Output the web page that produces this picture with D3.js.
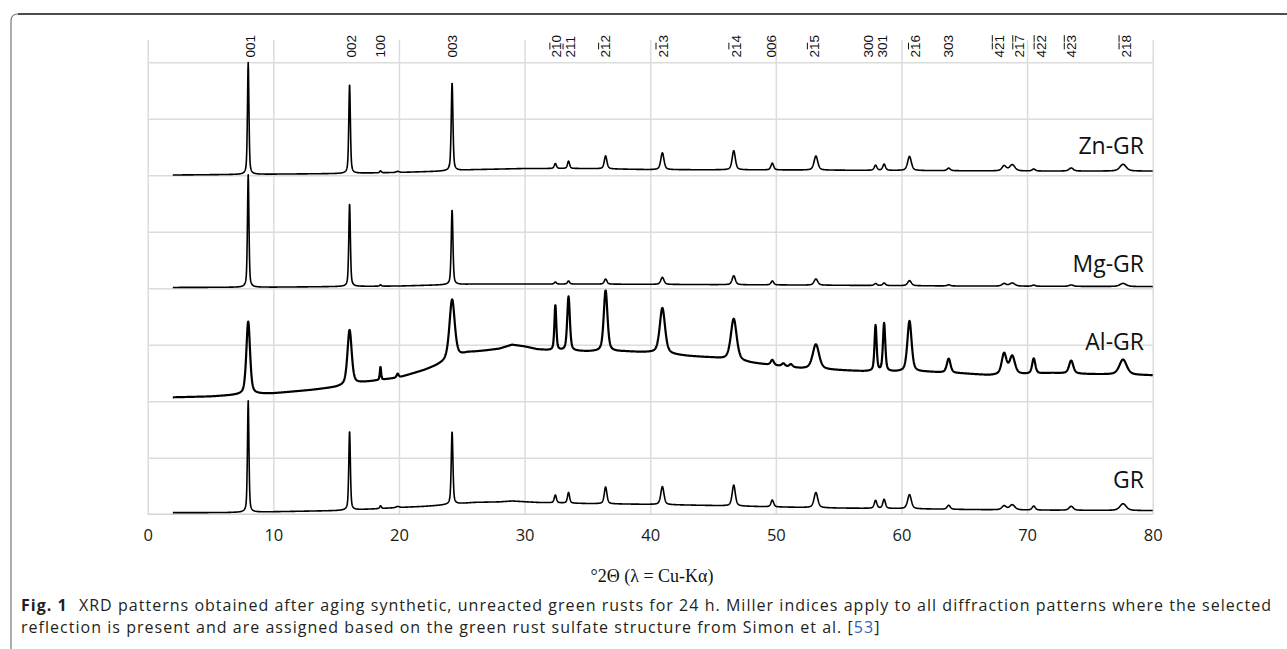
<!DOCTYPE html>
<html>
<head>
<meta charset="utf-8">
<script src="https://cdn.jsdelivr.net/npm/d3@7"></script>
<style>
	body{margin:0;background:#fff;}
	svg{display:block;}
</style>
</head>
<body>
<svg id="chart" width="1287" height="649"></svg>
<script>
// Axis ticks / gridlines
const xTicks = [0, 10, 20, 30, 40, 50, 60, 70, 80];
const yGrid = [1, 2, 3, 4, 5, 6, 7, 8];

// Patterns, stacked bottom to top, with their vertical offset
const seriesNames = ["GR", "Al-GR", "Mg-GR", "Zn-GR"];
const seriesOffsets = [0, 2, 4, 6];
const seriesLabelY = [488, 350, 272, 154];

// Reflection positions (°2θ)
const peakPos = [8.0, 16.07, 18.53, 19.9, 24.23, 32.45, 33.5, 36.45, 40.97, 46.65, 49.72, 50.6, 51.2,
	53.19, 57.94, 58.62, 60.64, 63.76, 68.17, 68.82, 70.53, 73.51, 77.64];

// Peak heights above background (grid units) for each pattern
const grHeights = [1.97, 1.40, 0.05, 0.02, 1.29, 0.14, 0.19, 0.30, 0.32, 0.37, 0.12, 0, 0,
	0.27, 0.14, 0.16, 0.25, 0.07, 0.07, 0.09, 0.07, 0.07, 0.12];
const alHeights = [1.29, 0.97, 0.23, 0.07, 1.06, 0.80, 0.96, 1.08, 0.81, 0.74, 0.09, 0.05, 0.05,
	0.44, 0.81, 0.85, 0.90, 0.25, 0.37, 0.32, 0.27, 0.23, 0.27];
const mgHeights = [1.99, 1.47, 0.025, 0, 1.33, 0.035, 0.055, 0.09, 0.125, 0.16, 0.07, 0, 0,
	0.11, 0.035, 0.045, 0.09, 0.02, 0.045, 0.055, 0.02, 0.025, 0.055];
const znHeights = [1.98, 1.58, 0.035, 0.02, 1.56, 0.09, 0.13, 0.23, 0.30, 0.34, 0.12, 0, 0,
	0.25, 0.09, 0.11, 0.25, 0.045, 0.09, 0.11, 0.035, 0.055, 0.12];

// Peak widths (FWHM, °2θ): crystalline patterns and the broader Al-GR pattern
const sharpWidths = [0.14, 0.15, 0.15, 0.3, 0.16, 0.2, 0.2, 0.25, 0.3, 0.3, 0.25, 0.3, 0.3,
	0.35, 0.25, 0.25, 0.35, 0.3, 0.4, 0.5, 0.3, 0.4, 0.6];
const alWidths = [0.35, 0.4, 0.12, 0.2, 0.5, 0.18, 0.25, 0.35, 0.5, 0.55, 0.3, 0.3, 0.3,
	0.6, 0.2, 0.22, 0.4, 0.35, 0.45, 0.5, 0.3, 0.4, 0.7];

// Background knots (°2θ, grid units above offset)
const grBgX = [2, 6, 10, 15, 18, 20, 22, 23, 26, 28, 29, 31, 35, 40, 45, 50, 55, 60, 65, 70, 80];
const grBgY = [0.03, 0.03, 0.045, 0.065, 0.095, 0.12, 0.14, 0.155, 0.21, 0.22, 0.235, 0.21, 0.19,
	0.175, 0.155, 0.13, 0.11, 0.10, 0.085, 0.075, 0.065];
const alBgX = [2, 5, 7, 10, 13, 15, 17, 19, 20, 22, 23, 25.5, 27, 28, 29, 30, 31, 32, 35, 38, 40,
	43, 45, 48, 50, 52, 55, 57, 59.3, 62, 65, 67, 70, 72, 75, 80];
const alBgY = [0.07, 0.085, 0.11, 0.14, 0.2, 0.25, 0.33, 0.39, 0.42, 0.55, 0.63, 0.86, 0.9, 0.93, 1.0,
	0.97, 0.92, 0.9, 0.88, 0.88, 0.86, 0.8, 0.77, 0.68, 0.63, 0.58, 0.55, 0.53, 0.52, 0.52, 0.49,
	0.46, 0.48, 0.5, 0.48, 0.46];
const mgBgX = [2, 10, 20, 26, 35, 50, 65, 80];
const mgBgY = [0.015, 0.02, 0.04, 0.075, 0.075, 0.06, 0.04, 0.03];
const znBgX = [2, 10, 15, 20, 23, 26, 30, 35, 40, 50, 60, 70, 80];
const znBgY = [0.005, 0.02, 0.03, 0.05, 0.07, 0.10, 0.12, 0.12, 0.10, 0.095, 0.085, 0.075, 0.075];

// Miller index labels: position and digits ("-" marks an overlined digit)
const millerPos = [8.15, 16.18, 18.48, 24.2, 32.55, 33.6, 36.43, 41.0, 46.8, 49.64, 53.05, 57.37,
	58.45, 61.1, 63.7, 67.77, 69.4, 71.1, 73.5, 77.86];
const millerText = ["0 0 1", "0 0 2", "1 0 0", "0 0 3", "2 -1 0", "2 -1 1", "2 -1 2", "2 -1 3",
	"2 -1 4", "0 0 6", "2 -1 5", "3 0 0", "3 0 1", "2 -1 6", "3 0 3", "4 -2 -1", "2 -1 -7",
	"4 -2 -2", "4 -2 -3", "2 -1 -8"];

const heights = [grHeights, alHeights, mgHeights, znHeights];
const widths = [sharpWidths, alWidths, sharpWidths, sharpWidths];
const bgX = [grBgX, alBgX, mgBgX, znBgX];
const bgY = [grBgY, alBgY, mgBgY, znBgY];
const strokeW = [1.6, 2.2, 1.6, 1.6];

const svg = d3.select("#chart");

// Figure frame
svg.append("path")
	.attr("d", "M11,649 L11,21 Q11,14 18,14")
	.attr("fill", "none").attr("stroke", "#777").attr("stroke-width", 1.2);
svg.append("path")
	.attr("d", "M18,14 L1287,14")
	.attr("fill", "none").attr("stroke", "#111").attr("stroke-width", 1.4);

// Scales
const x = d3.scaleLinear().domain([0, 80]).range([147.7, 1152.7]);
const y = d3.scaleLinear().domain([0, 8.4]).range([514.3, 39.7]);

// Gridlines
svg.append("g")
	.attr("class", "grid x")
	.attr("transform", "translate(0," + y(0) + ")")
	.call(d3.axisBottom(x).tickValues(xTicks).tickSize(-(y(0) - y(8.4))).tickFormat(""))
	.call(g => g.select(".domain").remove());
svg.append("g")
	.attr("class", "grid y")
	.attr("transform", "translate(" + x(0) + ",0)")
	.call(d3.axisLeft(y).tickValues(yGrid).tickSize(-(x(80) - x(0))).tickFormat(""))
	.call(g => g.select(".domain").remove());
svg.selectAll(".grid line").attr("stroke", "#dcdcdc").attr("stroke-width", 1.5);

// Bottom axis line
svg.append("line")
	.attr("x1", x(0)).attr("x2", x(80))
	.attr("y1", y(0)).attr("y2", y(0))
	.attr("stroke", "#d4d4d4").attr("stroke-width", 1.6);

// Tick labels
const xAxis = svg.append("g")
	.attr("transform", "translate(0," + y(0) + ")")
	.call(d3.axisBottom(x).tickValues(xTicks).tickSize(0));
xAxis.select(".domain").remove();
xAxis.selectAll("text")
	.attr("y", 27).attr("dy", 0)
	.style("font-family", "'Open Sans', sans-serif")
	.style("font-size", "16.5px")
	.attr("fill", "#1a1a1a");

// Pseudo-Voigt peak profile, normalised to height 1 at the centre
function profile(t, c, w){
	const d = (t - c) / (w / 2);
	const lor = 1 / (1 + d * d);
	const gau = Math.exp(-Math.LN2 * d * d);
	return 0.5 * lor + 0.5 * gau;
}

const grid2t = d3.range(2, 80.0001, 0.02);
const line = d3.line().x(d => x(d[0])).y(d => y(d[1]));

seriesNames.forEach((name, s) => {
	const bg = d3.scaleLinear().domain(bgX[s]).range(bgY[s]).clamp(true);
	const pts = grid2t.map(t => {
		let v = seriesOffsets[s] + bg(t);
		peakPos.forEach((p, i) => {
			if (heights[s][i] > 0) v += heights[s][i] * profile(t, p, widths[s][i]);
		});
		return [t, v];
	});
	svg.append("path")
		.datum(pts)
		.attr("class", "pattern")
		.attr("d", line)
		.attr("fill", "none")
		.attr("stroke", "#000")
		.attr("stroke-width", strokeW[s])
		.attr("stroke-linejoin", "round");

	svg.append("text")
		.attr("x", 1144)
		.attr("y", seriesLabelY[s])
		.attr("text-anchor", "end")
		.style("font-family", "'Open Sans', sans-serif")
		.style("font-size", "23px")
		.attr("fill", "#111")
		.text(name);
});

// Miller indices, rotated; one tspan per digit, overlines drawn above the barred digits
const mFont = 13.5;
millerText.forEach((lab, i) => {
	const g = svg.append("g")
		.attr("transform", "translate(" + x(millerPos[i]) + ",57.5) rotate(-90)");
	const parts = lab.split(" ");
	const t = g.append("text")
		.attr("y", 0.36 * mFont)
		.attr("text-anchor", "start")
		.style("font-family", "'Liberation Sans', Arial, sans-serif")
		.style("font-size", mFont + "px")
		.attr("fill", "#111");
	parts.forEach(p => t.append("tspan").text(p.replace("-", "")));
	parts.forEach((p, k) => {
		if (!p.startsWith("-")) return;
		const ext = t.node().getExtentOfChar(k);
		const yy = 0.36 * mFont - 0.86 * mFont;
		g.append("line")
			.attr("x1", ext.x + 0.6).attr("x2", ext.x + ext.width - 0.2)
			.attr("y1", yy).attr("y2", yy)
			.attr("stroke", "#111").attr("stroke-width", 1);
	});
});

// Axis title
svg.append("text")
	.attr("x", 652).attr("y", 582)
	.attr("text-anchor", "middle")
	.style("font-family", "'Liberation Serif', 'Times New Roman', serif")
	.style("font-size", "18px")
	.attr("fill", "#111")
	.text("°2Θ (λ = Cu-Kα)");

// Caption
const capFont = "'Open Sans', sans-serif";
const cap1 = svg.append("text")
	.attr("x", 21).attr("y", 611)
	.style("font-family", capFont).style("font-size", "16px")
	.attr("fill", "#231f20");
cap1.append("tspan").style("font-weight", "bold").text("Fig. 1");
cap1.append("tspan").attr("dx", 6)
	.text(" XRD patterns obtained after aging synthetic, unreacted green rusts for 24 h. Miller indices apply to all diffraction patterns where the selected");

const cap2 = svg.append("text")
	.attr("x", 21).attr("y", 633)
	.style("font-family", capFont).style("font-size", "16px")
	.attr("fill", "#231f20");
cap2.append("tspan").text("reflection is present and are assigned based on the green rust sulfate structure from Simon et al. [");
cap2.append("tspan").attr("fill", "#2f5fc4").text("53");
cap2.append("tspan").text("]");

// squeeze/stretch the caption letter spacing so line 1 spans the frame width
const natural = cap1.node().getComputedTextLength();
const nChars = cap1.text().length;
const ls = (1245 - natural) / nChars;
cap1.style("letter-spacing", ls + "px");
cap2.style("letter-spacing", ls + "px");
</script>
</body>
</html>
